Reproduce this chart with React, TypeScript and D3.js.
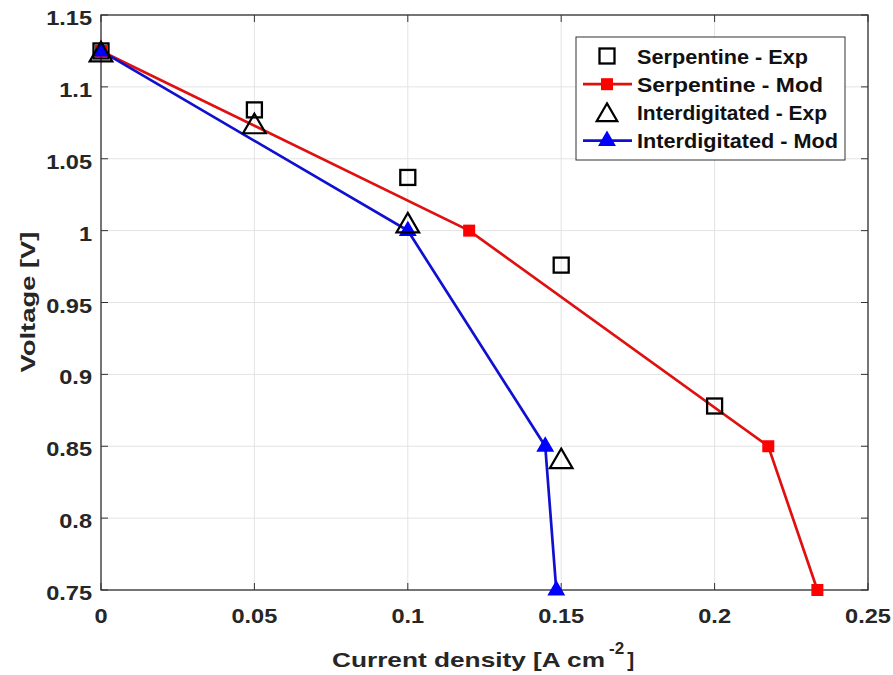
import React from "react";
import * as d3 from "d3";

const serpExpX = [0, 0.05, 0.1, 0.15, 0.2];
const serpExpY = [1.125, 1.084, 1.037, 0.976, 0.878];
const serpModX = [0, 0.12, 0.2175, 0.2335];
const serpModY = [1.125, 1.0, 0.85, 0.75];
const interExpX = [0, 0.05, 0.1, 0.15];
const interExpY = [1.123, 1.073, 1.004, 0.84];
const interModX = [0, 0.1, 0.1448, 0.1484];
const interModY = [1.125, 1.0, 0.85, 0.75];
const xTicks = [0, 0.05, 0.1, 0.15, 0.2, 0.25];
const yTicks = [0.75, 0.8, 0.85, 0.9, 0.95, 1, 1.05, 1.1, 1.15];
const legendLabels = ["Serpentine - Exp", "Serpentine - Mod", "Interdigitated - Exp", "Interdigitated - Mod"];

const W = 893;
const H = 675;
const m = { left: 101, right: 25, top: 15, bottom: 85 };
const font = "Arial, 'Liberation Sans', sans-serif";

const x = d3.scaleLinear().domain([0, 0.25]).range([m.left, W - m.right]);
const y = d3.scaleLinear().domain([0.75, 1.15]).range([H - m.bottom, m.top]);

const zip = (xs: number[], ys: number[]) => xs.map((v, i) => [v, ys[i]] as [number, number]);
const line = d3.line<[number, number]>().x((d) => x(d[0])).y((d) => y(d[1]));

const Square = ({ cx, cy }: { cx: number; cy: number }) => (
  <rect x={cx - 7.5} y={cy - 7.5} width={15} height={15} fill="none" stroke="#000" strokeWidth={2.3} />
);
const Triangle = ({ cx, cy, fill, stroke, r, sw = 2 }: { cx: number; cy: number; fill: string; stroke: string; r: number; sw?: number }) => (
  <path d={`M${cx},${cy - r}L${cx + r * 1.03},${cy + r * 0.78}L${cx - r * 1.03},${cy + r * 0.78}Z`} fill={fill} stroke={stroke} strokeWidth={sw} />
);

// stretched bold text, as in the reference
const T = ({ px, py, s, size, anchor, children }: { px: number; py: number; s: number; size: number; anchor: string; children: any }) => (
  <text transform={`translate(${px},${py}) scale(${s},1)`} textAnchor={anchor} fontSize={size} fontWeight="bold" fill="#262626">
    {children}
  </text>
);

export default function App() {
  const x0 = m.left, x1 = W - m.right, y0 = H - m.bottom, y1 = m.top;
  const lx = 576, ly = 37, lw = 269, lh = 123;
  return (
    <svg width={W} height={H} style={{ display: "block", position: "absolute", left: 0, top: 0, background: "#fff" }} fontFamily={font}>
      {/* grid */}
      {xTicks.map((t) => (
        <line key={"gx" + t} x1={x(t)} x2={x(t)} y1={y0} y2={y1} stroke="#e3e3e3" strokeWidth={1} />
      ))}
      {yTicks.map((t) => (
        <line key={"gy" + t} x1={x0} x2={x1} y1={y(t)} y2={y(t)} stroke="#e3e3e3" strokeWidth={1} />
      ))}
      {/* ticks */}
      {xTicks.map((t) => (
        <g key={"tx" + t}>
          <line x1={x(t)} x2={x(t)} y1={y0} y2={y0 - 7} stroke="#333" />
          <line x1={x(t)} x2={x(t)} y1={y1} y2={y1 + 7} stroke="#333" />
          <T px={x(t)} py={y0 + 33} s={1.15} size={20.5} anchor="middle">{t}</T>
        </g>
      ))}
      {yTicks.map((t) => (
        <g key={"ty" + t}>
          <line x1={x0} x2={x0 + 7} y1={y(t)} y2={y(t)} stroke="#333" />
          <line x1={x1} x2={x1 - 7} y1={y(t)} y2={y(t)} stroke="#333" />
          <T px={x0 - 9} py={y(t) + 10} s={1.15} size={20.5} anchor="end">{t}</T>
        </g>
      ))}
      <rect x={x0} y={y1} width={x1 - x0} height={y0 - y1} fill="none" stroke="#333" strokeWidth={1.3} />

      {/* model lines */}
      <path d={line(zip(serpModX, serpModY)) || ""} fill="none" stroke="#e01010" strokeWidth={2.7} />
      {zip(serpModX, serpModY).map((d, i) => (
        <rect key={"sm" + i} x={x(d[0]) - 6} y={y(d[1]) - 6} width={12} height={12} fill="#f00" />
      ))}
      <path d={line(zip(interModX, interModY)) || ""} fill="none" stroke="#1010d0" strokeWidth={2.7} />
      {zip(interModX, interModY).map((d, i) => (
        <Triangle key={"im" + i} cx={x(d[0])} cy={y(d[1]) - 1} r={7} fill="#0000ff" stroke="#0000ff" />
      ))}
      {/* experimental markers */}
      {zip(serpExpX, serpExpY).map((d, i) => (
        <Square key={"se" + i} cx={x(d[0])} cy={y(d[1])} />
      ))}
      {zip(interExpX, interExpY).map((d, i) => (
        <Triangle key={"ie" + i} cx={x(d[0])} cy={y(d[1]) - 1} r={11} fill="none" stroke="#000" sw={2.2} />
      ))}

      {/* legend */}
      <rect x={lx} y={ly} width={lw} height={lh} fill="#fff" stroke="#333" strokeWidth={1} />
      {legendLabels.map((lab, i) => {
        const cy = ly + 19 + i * 28.2;
        const mx = lx + 31;
        return (
          <g key={lab}>
            {i === 0 && <Square cx={mx} cy={cy} />}
            {i === 1 && (
              <g>
                <line x1={lx + 7} x2={lx + 56} y1={cy} y2={cy} stroke="#e01010" strokeWidth={2.7} />
                <rect x={mx - 6} y={cy - 6} width={12} height={12} fill="#f00" />
              </g>
            )}
            {i === 2 && <Triangle cx={mx} cy={cy + 1} r={10} fill="none" stroke="#000" sw={2.2} />}
            {i === 3 && (
              <g>
                <line x1={lx + 7} x2={lx + 56} y1={cy} y2={cy} stroke="#1010d0" strokeWidth={2.7} />
                <Triangle cx={mx} cy={cy - 1} r={7} fill="#0000ff" stroke="#0000ff" />
              </g>
            )}
            <text x={lx + 61} y={cy + 7.5} fontSize={20.5} fontWeight="bold" fill="#111" textLength={i === 0 ? 171 : i === 1 ? 186 : i === 2 ? 190 : 201} lengthAdjust="spacingAndGlyphs">
              {lab}
            </text>
          </g>
        );
      })}

      {/* axis titles */}
      <text x={332} y={667} fontSize={21} fontWeight="bold" fill="#262626">
        <tspan textLength={273} lengthAdjust="spacingAndGlyphs">Current density [A cm</tspan>
        <tspan dx={4} dy={-13} fontSize={17}>-2</tspan>
        <tspan dx={3} dy={13}>]</tspan>
      </text>
      <text transform={`translate(35,302) rotate(-90)`} textAnchor="middle" fontSize={21} fontWeight="bold" fill="#262626" textLength={141} lengthAdjust="spacingAndGlyphs">
        Voltage [V]
      </text>
    </svg>
  );
}
